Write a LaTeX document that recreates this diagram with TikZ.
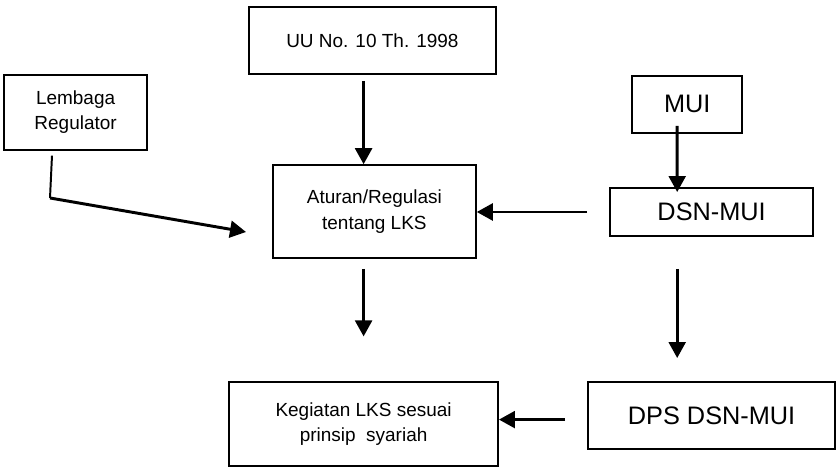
\documentclass[tikz,border=0pt]{standalone}
\usepackage{fontspec}
\setmainfont{Liberation Sans}
\usetikzlibrary{arrows.meta, positioning, calc}

\begin{document}
\begin{tikzpicture}[
    every node/.style={align=center},
    box/.style={draw, rectangle, line width=1.1pt, inner sep=0pt, font=\fontsize{13.5}{18}\selectfont},
    bigbox/.style={box, font=\fontsize{18}{22}\selectfont},
    arr/.style={-{Triangle[length=0.4cm, width=0.42cm]}, line width=2.1pt}
]

    % Page frame (keeps the margins)
    \useasboundingbox (0, 0) rectangle (20.95, 11.7);

    % Boxes
    \node[box, minimum width=6.18cm, minimum height=1.68cm] (uu) at (9.31, 10.69) {UU No. 10 Th. 1998};
    \node[box, minimum width=3.58cm, minimum height=1.88cm] (lemb) at (1.89, 8.89) {Lembaga\\Regulator};
    \node[bigbox, minimum width=2.75cm, minimum height=1.43cm] (mui) at (17.18, 9.09) {MUI};
    \node[box, minimum width=5.08cm, minimum height=2.33cm] (atur) at (9.36, 6.41) {Aturan/Regulasi\\tentang LKS};
    \node[bigbox, minimum width=5.08cm, minimum height=1.2cm] (dsn) at (17.79, 6.4) {DSN-MUI};
    \node[box, minimum width=6.73cm, minimum height=2.1cm] (keg) at (9.09, 1.1) {Kegiatan LKS sesuai\\prinsip\ \ syariah};
    \node[bigbox, minimum width=6.18cm, minimum height=1.68cm] (dps) at (17.79, 1.31) {DPS DSN-MUI};

    % Free ends of the Lembaga Regulator line
    \coordinate (lemb_bend) at (1.25, 6.75);
    \coordinate (lemb_end) at (6.15, 5.9);

    % Left column
    \draw[arr, shorten <=0.15cm] (uu.south -| keg.north) -- (atur.north -| keg.north);
    \draw[arr, shorten <=0.25cm, shorten >=1.12cm] (atur.south -| keg.north) -- (keg.north);

    % Lembaga Regulator to Aturan
    \draw[line width=1.4pt] ([xshift=-0.59cm, yshift=-0.12cm]lemb.south) -- (lemb_bend);
    \draw[arr] (lemb_bend) -- (lemb_end);

    % Right column
    \draw[arr, shorten <=-0.2cm, shorten >=-0.12cm] ([xshift=-0.25cm]mui.south) -- ([xshift=-0.86cm]dsn.north);
    \draw[arr, shorten <=0.8cm, shorten >=0.58cm] ([xshift=-0.86cm]dsn.south) -- ([xshift=-0.86cm]dps.north);

    % Horizontal arrows pointing left
    \draw[arr, shorten <=0.55cm] (dsn.west) -- (dsn.west -| atur.east);
    \draw[arr, shorten <=0.55cm] ([yshift=-0.1cm]dps.west) -- ([yshift=-0.1cm]dps.west -| keg.east);

\end{tikzpicture}
\end{document}
